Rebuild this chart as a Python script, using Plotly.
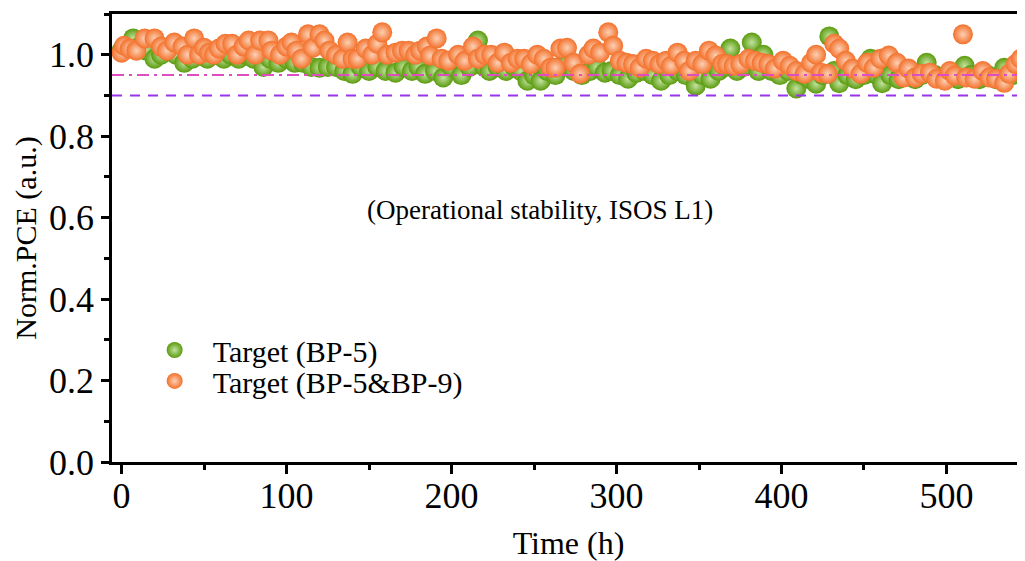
import plotly.graph_objects as go

# ---- data ----
green_t = [0, 3, 7, 11, 15, 20, 24, 28, 33, 38, 43, 48, 52, 57, 62, 66, 71, 75, 80, 86,
           90, 95, 100, 105, 110, 115, 120, 125, 130, 135, 140, 145, 150, 155, 160, 166,
           171, 176, 180, 184, 190, 195, 200, 206, 211, 216, 220, 223, 228, 233, 238, 242,
           246, 250, 254, 258, 263, 269, 274, 279, 284, 288, 293, 297, 302, 307, 312, 317,
           322, 327, 332, 337, 342, 348, 352, 357, 362, 366, 369, 373, 377, 382, 386, 389,
           394, 399, 404, 409, 413, 417, 421, 425, 429, 432, 435, 440, 445, 450, 454, 458,
           461, 466, 471, 476, 481, 485, 488, 493, 498, 503, 507, 511, 515, 520, 525, 530,
           535, 540, 545]
green_v = [1.01, 1.02, 1.04, 1.02, 1.01, 0.99, 1.0, 1.01, 1.0, 0.98, 0.99, 1.0, 0.99, 1.0,
           0.99, 1.0, 0.99, 1.0, 0.99, 0.97, 0.99, 0.98, 0.99, 0.98, 0.98, 0.97, 0.968, 0.97,
           0.97, 0.96, 0.953, 0.97, 0.96, 0.97, 0.96, 0.956, 0.97, 0.96, 0.97, 0.953, 0.96,
           0.944, 0.97, 0.95, 0.97, 1.035, 0.97, 0.96, 0.97, 0.96, 0.97, 0.96, 0.936, 0.95,
           0.936, 0.96, 0.95, 0.977, 0.96, 0.95, 0.96, 0.97, 0.956, 0.96, 0.95, 0.941, 0.955,
           0.96, 0.95, 0.936, 0.95, 0.96, 0.95, 0.924, 0.95, 0.941, 0.96, 0.97, 1.015, 0.96,
           0.97, 1.03, 0.96, 1.0, 0.96, 0.95, 0.96, 0.917, 0.95, 0.94, 0.929, 0.95, 1.045,
           0.96, 0.93, 0.95, 0.94, 0.95, 0.99, 0.95, 0.93, 0.95, 0.94, 0.95, 0.94, 0.95, 0.98,
           0.95, 0.94, 0.95, 0.94, 0.973, 0.95, 0.94, 0.95, 0.94, 0.968, 0.95, 0.96]

orange_t = [0, 1.5, 5, 9, 14, 20, 24, 27.5, 32, 37, 40, 44, 47, 50, 53, 56, 59, 63, 67, 70,
            74, 77, 81, 84, 89, 91, 96, 100, 103, 106, 109, 113, 116, 120, 123, 126, 130,
            134, 137, 140, 143, 148, 152, 155, 158, 161, 166, 170, 174, 178, 181, 185, 187,
            191, 194, 198, 204, 208, 213, 216, 220, 224, 228, 232, 236, 240, 244, 248, 252,
            256, 260, 263, 266, 270, 274, 278, 283, 286, 290, 295, 298, 302, 306, 310, 314,
            318, 322, 326, 330, 333, 337, 341, 344, 348, 352, 356, 360, 364, 367, 371, 375,
            380, 384, 388, 392, 396, 401, 405, 409, 414, 418, 421, 424, 428, 432, 435, 439,
            443, 448, 452, 456, 460, 465, 470, 474, 477, 481, 485, 490, 494, 499, 502, 505,
            510, 512, 517, 522, 526, 530, 535, 538, 542, 545]
orange_v = [1.005, 1.022, 1.015, 1.01, 1.04, 1.04, 1.02, 1.01, 1.03, 1.02, 1.0, 1.04, 1.0,
            1.017, 1.005, 1.0, 1.015, 1.027, 1.027, 1.0, 1.02, 1.035, 1.0, 1.035, 1.035, 1.01,
            1.0, 1.02, 1.03, 1.01, 0.99, 1.05, 1.017, 1.05, 1.035, 1.01, 1.0, 0.99, 1.03, 0.99,
            0.99, 1.015, 1.0, 1.027, 1.055, 1.0, 1.005, 1.01, 1.01, 1.0, 1.01, 1.02, 0.998,
            1.04, 0.99, 0.985, 1.0, 0.985, 1.02, 0.99, 1.0, 1.0, 0.98, 1.005, 0.98, 0.99, 0.99,
            0.977, 1.0, 0.99, 0.968, 0.968, 1.015, 1.017, 0.98, 0.953, 1.0, 1.015, 1.005,
            1.055, 1.022, 0.985, 0.98, 0.977, 0.968, 0.99, 0.985, 0.977, 0.985, 0.973, 1.005,
            0.985, 0.96, 0.985, 0.977, 1.01, 0.998, 0.977, 0.977, 0.973, 0.977, 0.99, 0.985,
            0.98, 0.977, 0.966, 0.985, 0.973, 0.96, 0.953, 0.98, 1.0, 0.956, 0.953, 1.027,
            1.015, 0.985, 0.966, 0.953, 0.98, 0.968, 0.99, 0.998, 0.98, 0.944, 0.966, 0.944,
            0.953, 0.956, 0.941, 0.936, 0.96, 0.949, 1.05, 0.944, 0.941, 0.96, 0.944, 0.941,
            0.931, 0.953, 0.977, 0.99]

ref_levels = [0.95, 0.90]
x_ticks = [0, 100, 200, 300, 400, 500]
y_ticks = [0.0, 0.2, 0.4, 0.6, 0.8, 1.0]

FONT = "Liberation Serif"

fig = go.Figure()
fig.add_trace(go.Scatter(
    x=green_t, y=green_v, mode="markers", name="Target (BP-5)", legend="legend",
    marker=dict(size=20, color="#5a9a0c", line=dict(width=0),
                gradient=dict(type="radial", color="#c2e3a0")),
))
fig.add_trace(go.Scatter(
    x=orange_t, y=orange_v, mode="markers", name="Target (BP-5&BP-9)", legend="legend2",
    marker=dict(size=20, color="#f3702a", line=dict(width=0),
                gradient=dict(type="radial", color="#fcd0b4")),
))

fig.add_shape(type="line", xref="paper", x0=0, x1=1, yref="y", y0=ref_levels[0], y1=ref_levels[0],
              line=dict(color="#dd4fc0", width=2, dash="12px,5px,3px,5px"), layer="above")
fig.add_shape(type="line", xref="paper", x0=0, x1=1, yref="y", y0=ref_levels[1], y1=ref_levels[1],
              line=dict(color="#9933ee", width=2, dash="10px,8px"), layer="above")

fig.add_annotation(x=0.469, y=0.5625, xref="paper", yref="paper",
                   text="(Operational stability, ISOS L1)", showarrow=False,
                   font=dict(family=FONT, size=27, color="black"))

legend_common = dict(xanchor="left", yanchor="top", bgcolor="rgba(0,0,0,0)",
                     font=dict(family=FONT, size=30), itemwidth=66)

# The page body has an 8px default margin, so the figure is sized and
# padded to place the plot area where the reference has it.
fig.update_layout(
    width=1017, height=553,
    margin=dict(l=104, r=0, t=6, b=99),
    paper_bgcolor="white", plot_bgcolor="white",
    font=dict(family=FONT, color="black"),
    showlegend=True,
    legend=dict(x=0.027, y=0.308, **legend_common),
    legend2=dict(x=0.027, y=0.239, **legend_common),
    xaxis=dict(range=[-5.8, 547.6], tickvals=x_ticks, showgrid=False, zeroline=False,
               automargin=False,
               showline=True, linecolor="black", linewidth=2.5, mirror=True,
               ticks="outside", ticklen=9, tickwidth=2.5, tickcolor="black",
               ticklabelstandoff=-9,
               tickfont=dict(family=FONT, size=36),
               minor=dict(dtick=50, ticks="outside", ticklen=5, tickwidth=2.5, tickcolor="black"),
               title=dict(text="Time (h)", font=dict(family=FONT, size=32), standoff=22)),
    yaxis=dict(range=[0, 1.1], tickvals=y_ticks, tickformat=".1f", showgrid=False, zeroline=False,
               automargin=False,
               showline=True, linecolor="black", linewidth=2.5,
               ticks="outside", ticklen=8, tickwidth=2.5, tickcolor="black",
               tickfont=dict(family=FONT, size=36),
               minor=dict(dtick=0.1, ticks="outside", ticklen=5, tickwidth=2.5, tickcolor="black"),
               title=dict(text="Norm.PCE (a.u.)", font=dict(family=FONT, size=30), standoff=4)),
)

fig.write_html("out.html")
